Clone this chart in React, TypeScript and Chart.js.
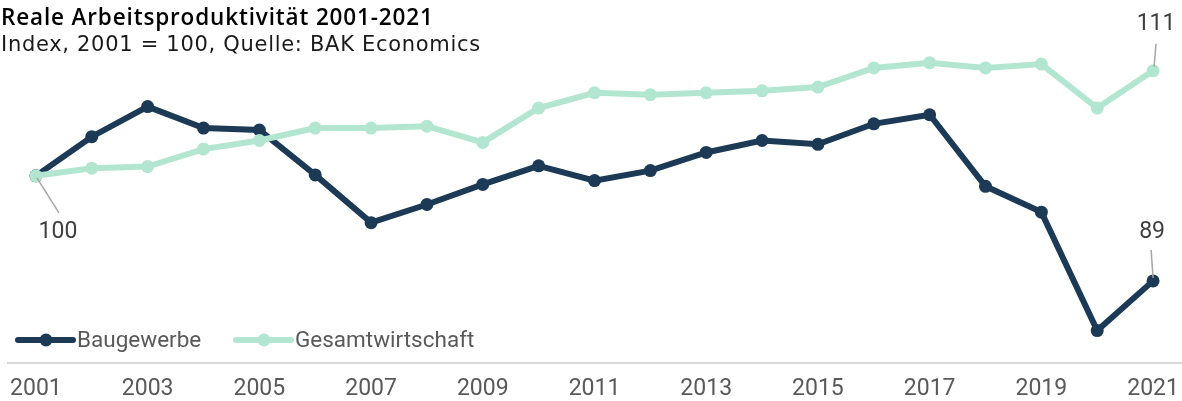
import React, { useEffect, useRef } from "react";
import { Chart, registerables } from "chart.js";

Chart.register(...registerables);

const years = [
  "2001", "2002", "2003", "2004", "2005", "2006", "2007", "2008", "2009", "2010",
  "2011", "2012", "2013", "2014", "2015", "2016", "2017", "2018", "2019", "2020", "2021",
];
const bauValues = [
  100, 104.1, 107.25, 105.0, 104.8, 100.1, 95.1, 97.0, 99.1, 101.05,
  99.5, 100.55, 102.45, 103.7, 103.3, 105.45, 106.4, 98.9, 96.2, 83.8, 89.0,
];
const gesamtValues = [
  100, 100.8, 100.97, 102.8, 103.7, 105.0, 105.0, 105.2, 103.5, 107.1,
  108.7, 108.5, 108.7, 108.9, 109.3, 111.3, 111.85, 111.3, 111.7, 107.1, 111.0,
];
const seriesNames = ["Baugewerbe", "Gesamtwirtschaft"];
const titleText = "Reale Arbeitsproduktivität 2001-2021";
const subtitleText = "Index, 2001 = 100, Quelle: BAK Economics";

const BAU_COLOR = "#1c3a56";
const GESAMT_COLOR = "#b3e6d1";
const FONT = "Roboto";

// annotated points: dataset index, point index, leader offsets and text offset
const callouts = [
  { ds: 1, idx: 0, l1: [1, 2], l2: [23, 37], t: [22, 56] },
  { ds: 1, idx: 20, l1: [1, -4], l2: [3, -27], t: [3, -47] },
  { ds: 0, idx: 20, l1: [0, -3], l2: [-2, -31], t: [-1, -49] },
];

const overlayPlugin = {
  id: "overlay",
  afterDraw(chart: any) {
    const ctx = chart.ctx;
    ctx.save();
    // title and subtitle
    ctx.textAlign = "left";
    ctx.textBaseline = "alphabetic";
    ctx.fillStyle = "#000000";
    ctx.font = `600 22.5px "Open Sans"`;
    ctx.letterSpacing = "0.85px";
    ctx.fillText(titleText, 1, 25);
    ctx.fillStyle = "#1a1a1a";
    ctx.font = `21px "DejaVu Sans"`;
    ctx.letterSpacing = "0.7px";
    ctx.fillText(subtitleText, 1, 51);
    ctx.letterSpacing = "0px";

    // callouts
    ctx.font = `23px ${FONT}`;
    ctx.textAlign = "center";
    ctx.textBaseline = "middle";
    callouts.forEach((c) => {
      const pt = chart.getDatasetMeta(c.ds).data[c.idx];
      const v = chart.data.datasets[c.ds].data[c.idx];
      ctx.strokeStyle = "#a6a6a6";
      ctx.lineWidth = 1.5;
      ctx.beginPath();
      ctx.moveTo(pt.x + c.l1[0], pt.y + c.l1[1]);
      ctx.lineTo(pt.x + c.l2[0], pt.y + c.l2[1]);
      ctx.stroke();
      ctx.fillStyle = "#404040";
      ctx.fillText(String(Math.round(v)), pt.x + c.t[0], pt.y + c.t[1]);
    });

    // legend
    const area = chart.chartArea;
    const ly = area.bottom - 23;
    const items = [
      { x: area.left + 8, color: BAU_COLOR, name: seriesNames[0] },
      { x: area.left + 226, color: GESAMT_COLOR, name: seriesNames[1] },
    ];
    ctx.font = `22.5px ${FONT}`;
    ctx.textAlign = "left";
    ctx.textBaseline = "middle";
    items.forEach((it) => {
      ctx.strokeStyle = it.color;
      ctx.lineWidth = 6;
      ctx.lineCap = "round";
      ctx.beginPath();
      ctx.moveTo(it.x + 2, ly);
      ctx.lineTo(it.x + 57, ly);
      ctx.stroke();
      ctx.fillStyle = it.color;
      ctx.beginPath();
      ctx.arc(it.x + 30, ly, 6.5, 0, Math.PI * 2);
      ctx.fill();
      ctx.fillStyle = "#595959";
      ctx.fillText(it.name, it.x + 61, ly + 1);
    });
    ctx.restore();
  },
};

function LineChart() {
  const ref = useRef<HTMLCanvasElement | null>(null);
  useEffect(() => {
    if (!ref.current) return;
    const chart = new Chart(ref.current, {
      type: "line",
      data: {
        labels: years,
        datasets: [
          {
            label: seriesNames[0],
            data: bauValues,
            borderColor: BAU_COLOR,
            backgroundColor: BAU_COLOR,
            borderWidth: 6,
            pointRadius: 6.5,
            pointBorderWidth: 0,
            pointBackgroundColor: BAU_COLOR,
            tension: 0,
            clip: false as any,
            order: 1,
          },
          {
            label: seriesNames[1],
            data: gesamtValues,
            borderColor: GESAMT_COLOR,
            backgroundColor: GESAMT_COLOR,
            borderWidth: 6,
            pointRadius: 6.5,
            pointBorderWidth: 0,
            pointBackgroundColor: GESAMT_COLOR,
            tension: 0,
            clip: false as any,
            order: 0,
          },
        ],
      },
      options: {
        responsive: false,
        maintainAspectRatio: false,
        animation: false,
        devicePixelRatio: 1,
        layout: { autoPadding: false, padding: { left: 8, right: 1, top: 56, bottom: 0 } },
        plugins: {
          legend: { display: false },
          tooltip: { enabled: false },
          title: { display: false },
        },
        scales: {
          x: {
            offset: true,
            grid: { display: false, drawTicks: false },
            border: { display: true, color: "#d9d9d9", width: 2 },
            afterFit: (scale: any) => {
              scale.height = 38;
              scale.paddingLeft = 0;
              scale.paddingRight = 0;
            },
            ticks: {
              autoSkip: false,
              maxRotation: 0,
              padding: 12,
              color: "#595959",
              font: { family: FONT, size: 23 },
              callback: (_v: any, i: number) => (i % 2 === 0 ? years[i] : ""),
            },
          },
          y: {
            display: false,
            min: 80.4,
            max: 112.55,
          },
        },
      },
      plugins: [overlayPlugin],
    });
    return () => chart.destroy();
  }, []);
  return <canvas ref={ref} width={1182} height={401} style={{ display: "block" }} />;
}

export default function App() {
  return (
    <div
      style={{
        position: "absolute",
        left: 0,
        top: 0,
        width: 1182,
        height: 401,
        background: "#ffffff",
      }}
    >
      <LineChart />
    </div>
  );
}
